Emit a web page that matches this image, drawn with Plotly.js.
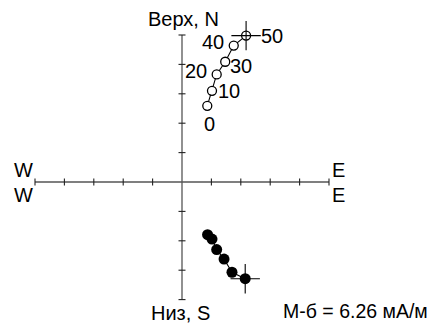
<!DOCTYPE html>
<html>
<head>
<meta charset="utf-8">
<script src="https://cdn.plot.ly/plotly-3.0.1.min.js"></script>
<style>html,body{margin:0;padding:0;background:#fff;}#chart{width:434px;height:325px;}</style>
</head>
<body>
<div id="chart"></div>
<script>
// Zijderveld diagram data (units of axis ticks)
const steps = ['0', '10', '20', '30', '40', '50'];
const vertEast = [0.86, 1.02, 1.18, 1.47, 1.76, 2.18];
const vertUp = [2.59, 3.10, 3.66, 4.09, 4.64, 4.98];
const horzEast = [0.87, 1.02, 1.18, 1.43, 1.70, 2.15];
const horzNorth = [-1.79, -1.94, -2.30, -2.62, -3.07, -3.29];
const xTicks = [-5, -4, -3, -2, -1, 0, 1, 2, 3, 4, 5];
const yTicks = [-4, -3, -2, -1, 0, 1, 2, 3, 4, 5];
const intensityLabel = 'М-б = 6.26 мА/м';

const W = 434, H = 325, cx = 182, cy = 182, unit = 29.4;
const xr = [-cx / unit, (W - cx) / unit];
const yr = [-(H - cy) / unit, cy / unit];
const FONT = 'Liberation Sans, Arial, sans-serif';
const axisColor = '#555';

const xMin = Math.min(...xTicks), xMax = Math.max(...xTicks);
const yMin = Math.min(...yTicks), yMax = Math.max(...yTicks);

const traces = [
  {x: [xMin, xMax], y: [0, 0], mode: 'lines', line: {color: axisColor, width: 1.3}, hoverinfo: 'skip'},
  {x: [0, 0], y: [yMin, yMax], mode: 'lines', line: {color: axisColor, width: 1.3}, hoverinfo: 'skip'},
  {x: vertEast, y: vertUp, mode: 'lines+markers',
   line: {color: '#000', width: 1.1},
   marker: {symbol: 'circle', size: 9, color: '#fff', line: {color: '#000', width: 1.3}}},
  {x: horzEast, y: horzNorth, mode: 'lines+markers',
   line: {color: '#000', width: 1.1},
   marker: {symbol: 'circle', size: 11, color: '#000', line: {color: '#000', width: 0}}},
  {x: [vertEast[vertEast.length - 1], horzEast[horzEast.length - 1]],
   y: [vertUp[vertUp.length - 1], horzNorth[horzNorth.length - 1]],
   mode: 'markers',
   marker: {symbol: 'cross-thin-open', size: 21, color: '#000', line: {color: '#000', width: 1.1}}}
];

const shapes = [];
xTicks.forEach(t => {
  if (t === 0) return;
  shapes.push({type: 'line', xref: 'x', yref: 'y', ysizemode: 'pixel', yanchor: 0,
    x0: t, x1: t, y0: -3.5, y1: 3.5, line: {color: '#222', width: 1.1}});
});
yTicks.forEach(t => {
  if (t === 0) return;
  shapes.push({type: 'line', xref: 'x', yref: 'y', xsizemode: 'pixel', xanchor: 0,
    y0: t, y1: t, x0: -3.5, x1: 3.5, line: {color: '#222', width: 1.1}});
});

const labelOffsets = [[2, -18], [17, 0], [-21, 3], [16, -4], [-21, 4], [26, 0]];
const annotations = steps.map((s, i) => ({
  x: vertEast[i], y: vertUp[i], xref: 'x', yref: 'y', text: s, showarrow: false,
  xshift: labelOffsets[i][0], yshift: labelOffsets[i][1],
  font: {family: FONT, size: 20, color: '#000'}
}));

function txt(t, px, py, size) {
  return {text: t, xref: 'paper', yref: 'paper', x: px / W, y: 1 - py / H,
    xanchor: 'center', yanchor: 'middle', showarrow: false,
    font: {family: FONT, size: size || 20, color: '#000'}};
}
annotations.push(txt('Верх, N', 183, 19));
annotations.push(txt('Низ, S', 180, 313));
annotations.push(txt('W', 23, 170));
annotations.push(txt('W', 23, 195));
annotations.push(txt('E', 338, 170));
annotations.push(txt('E', 338, 195));
annotations.push(txt(intensityLabel, 355, 311, 19.5));

const layout = {
  width: W, height: H,
  margin: {l: 0, r: 0, t: 0, b: 0},
  paper_bgcolor: '#fff', plot_bgcolor: '#fff',
  showlegend: false,
  xaxis: {range: xr, visible: false, fixedrange: true},
  yaxis: {range: yr, visible: false, fixedrange: true},
  shapes: shapes,
  annotations: annotations
};

Plotly.newPlot('chart', traces, layout, {displayModeBar: false, staticPlot: true});
</script>
</body>
</html>
